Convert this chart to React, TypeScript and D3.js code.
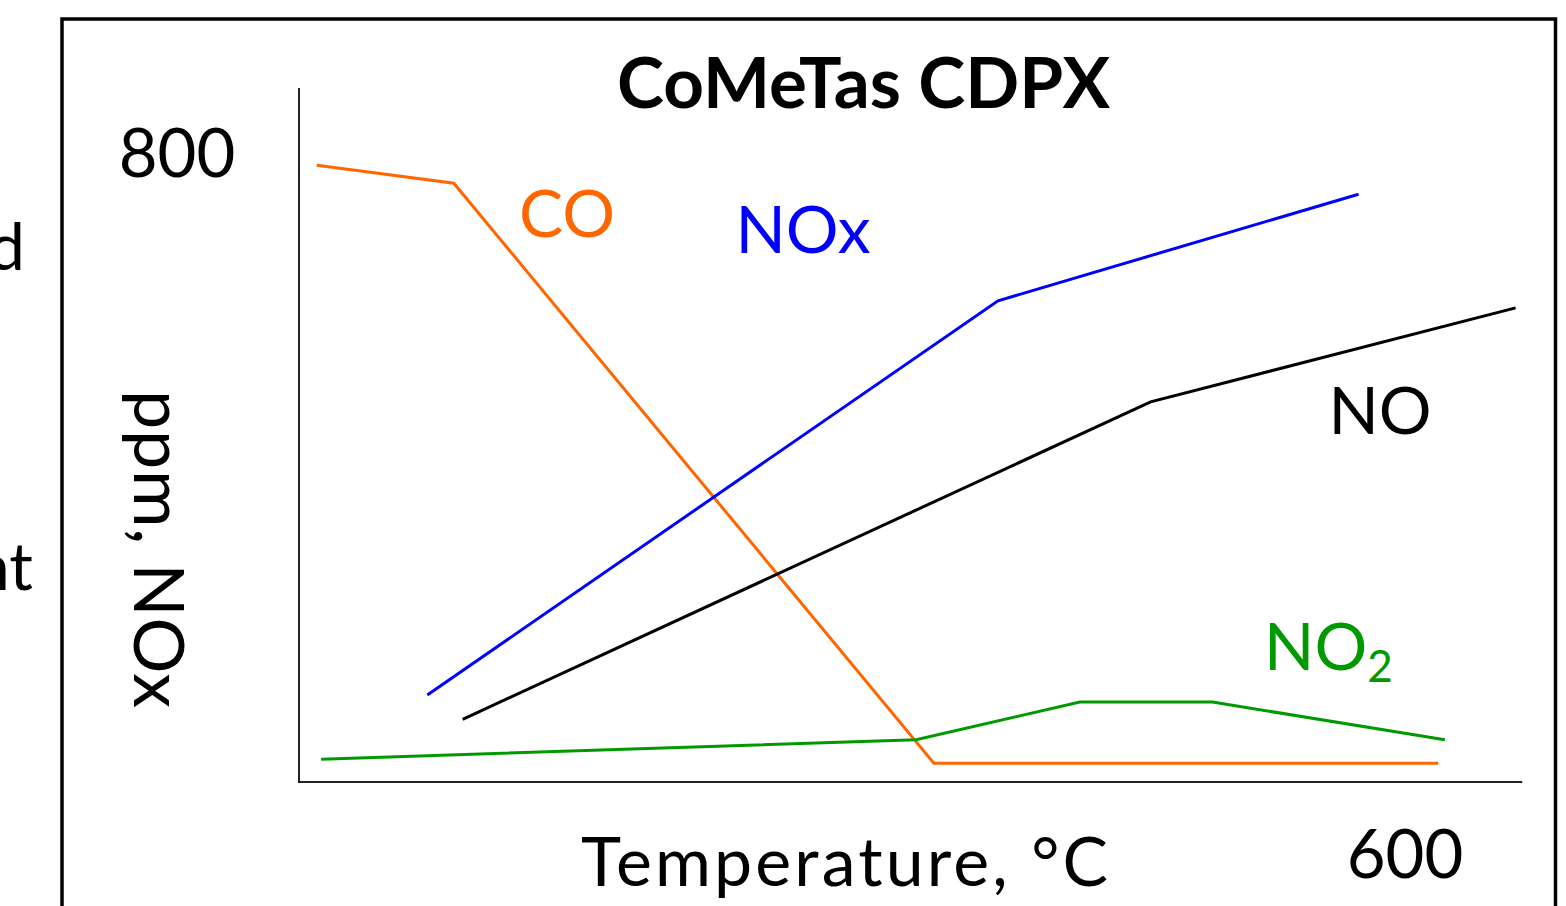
import React from "react";
import * as d3 from "d3";

// Temperature (°C) and concentration (ppm)
const coTemp = [108, 170, 387, 615];
const coPpm = [787, 764, 24, 24];
const noxTemp = [158, 416, 579];
const noxPpm = [111, 614, 750];
const noTemp = [174, 485, 650];
const noPpm = [80, 485, 605];
const no2Temp = [110, 379, 453, 513, 618];
const no2Ppm = [29, 54, 102, 102, 54];

const xTickLabels = ["600"];
const yTickLabels = ["800"];

const W = 1566;
const H = 906;
const FONT = "Lato, 'Open Sans', sans-serif";

export default function App() {
  const x = d3.scaleLinear().domain([100, 600]).range([299, 1405]);
  const y = d3.scaleLinear().domain([0, 800]).range([782, 155]);

  const mk = (t: number[], v: number[]) =>
    d3
      .line<number>()
      .x((_, i) => x(t[i]))
      .y((d) => y(d))(v) as string;

  const series = [
    { t: coTemp, v: coPpm, color: "#FF6600" },
    { t: noxTemp, v: noxPpm, color: "#0000FF" },
    { t: noTemp, v: noPpm, color: "#000000" },
    { t: no2Temp, v: no2Ppm, color: "#009A00" },
  ];

  return (
    <svg
      width={W}
      height={H}
      style={{ position: "absolute", left: 0, top: 0, background: "#fff" }}
      fontFamily={FONT}
    >
      <rect x={0} y={0} width={W} height={H} fill="#fff" />
      {/* partial texts cut off at left, as in the reference */}
      <text x={25} y={270} fontSize={66} textAnchor="end">d</text>
      <text x={33} y={590} fontSize={66} textAnchor="end">nt</text>
      {/* frame */}
      <rect x={62} y={19} width={1555.5 - 62} height={1000} fill="none" stroke="#000" strokeWidth={3.5} />
      {/* axes */}
      <line x1={299} y1={88} x2={299} y2={783} stroke="#222" strokeWidth={2} />
      <line x1={298} y1={782} x2={x(653)} y2={782} stroke="#222" strokeWidth={2} />
      {/* title */}
      <text x={617} y={108} fontSize={71} fontWeight="bold" textLength={493} lengthAdjust="spacing">
        CoMeTas CDPX
      </text>
      {/* tick labels */}
      {yTickLabels.map((l) => (
        <text key={l} x={177} y={y(+l) + 22} fontSize={67} textAnchor="middle">{l}</text>
      ))}
      {xTickLabels.map((l) => (
        <text key={l} x={x(+l)} y={878} fontSize={67} textAnchor="middle">{l}</text>
      ))}
      {/* axis titles */}
      <text x={581} y={886} fontSize={68} textLength={527} lengthAdjust="spacing">
        Temperature, °C
      </text>
      <text
        transform={`translate(134,390) rotate(90)`}
        fontSize={70}
        textLength={318}
        lengthAdjust="spacing"
      >
        ppm, NOx
      </text>
      {/* series */}
      {series.map((s, i) => (
        <path key={i} d={mk(s.t, s.v)} fill="none" stroke={s.color} strokeWidth={3} />
      ))}
      {/* series labels */}
      <text x={567} y={237} fontSize={66} fill="#FF6600" textAnchor="middle">CO</text>
      <text x={803} y={253} fontSize={66} fill="#0000FF" textAnchor="middle">NOx</text>
      <text x={1380} y={434} fontSize={66} fill="#000" textAnchor="middle">NO</text>
      <text x={1264} y={670} fontSize={66} fill="#009A00">
        NO<tspan fontSize={44} dy={12}>2</tspan>
      </text>
    </svg>
  );
}
